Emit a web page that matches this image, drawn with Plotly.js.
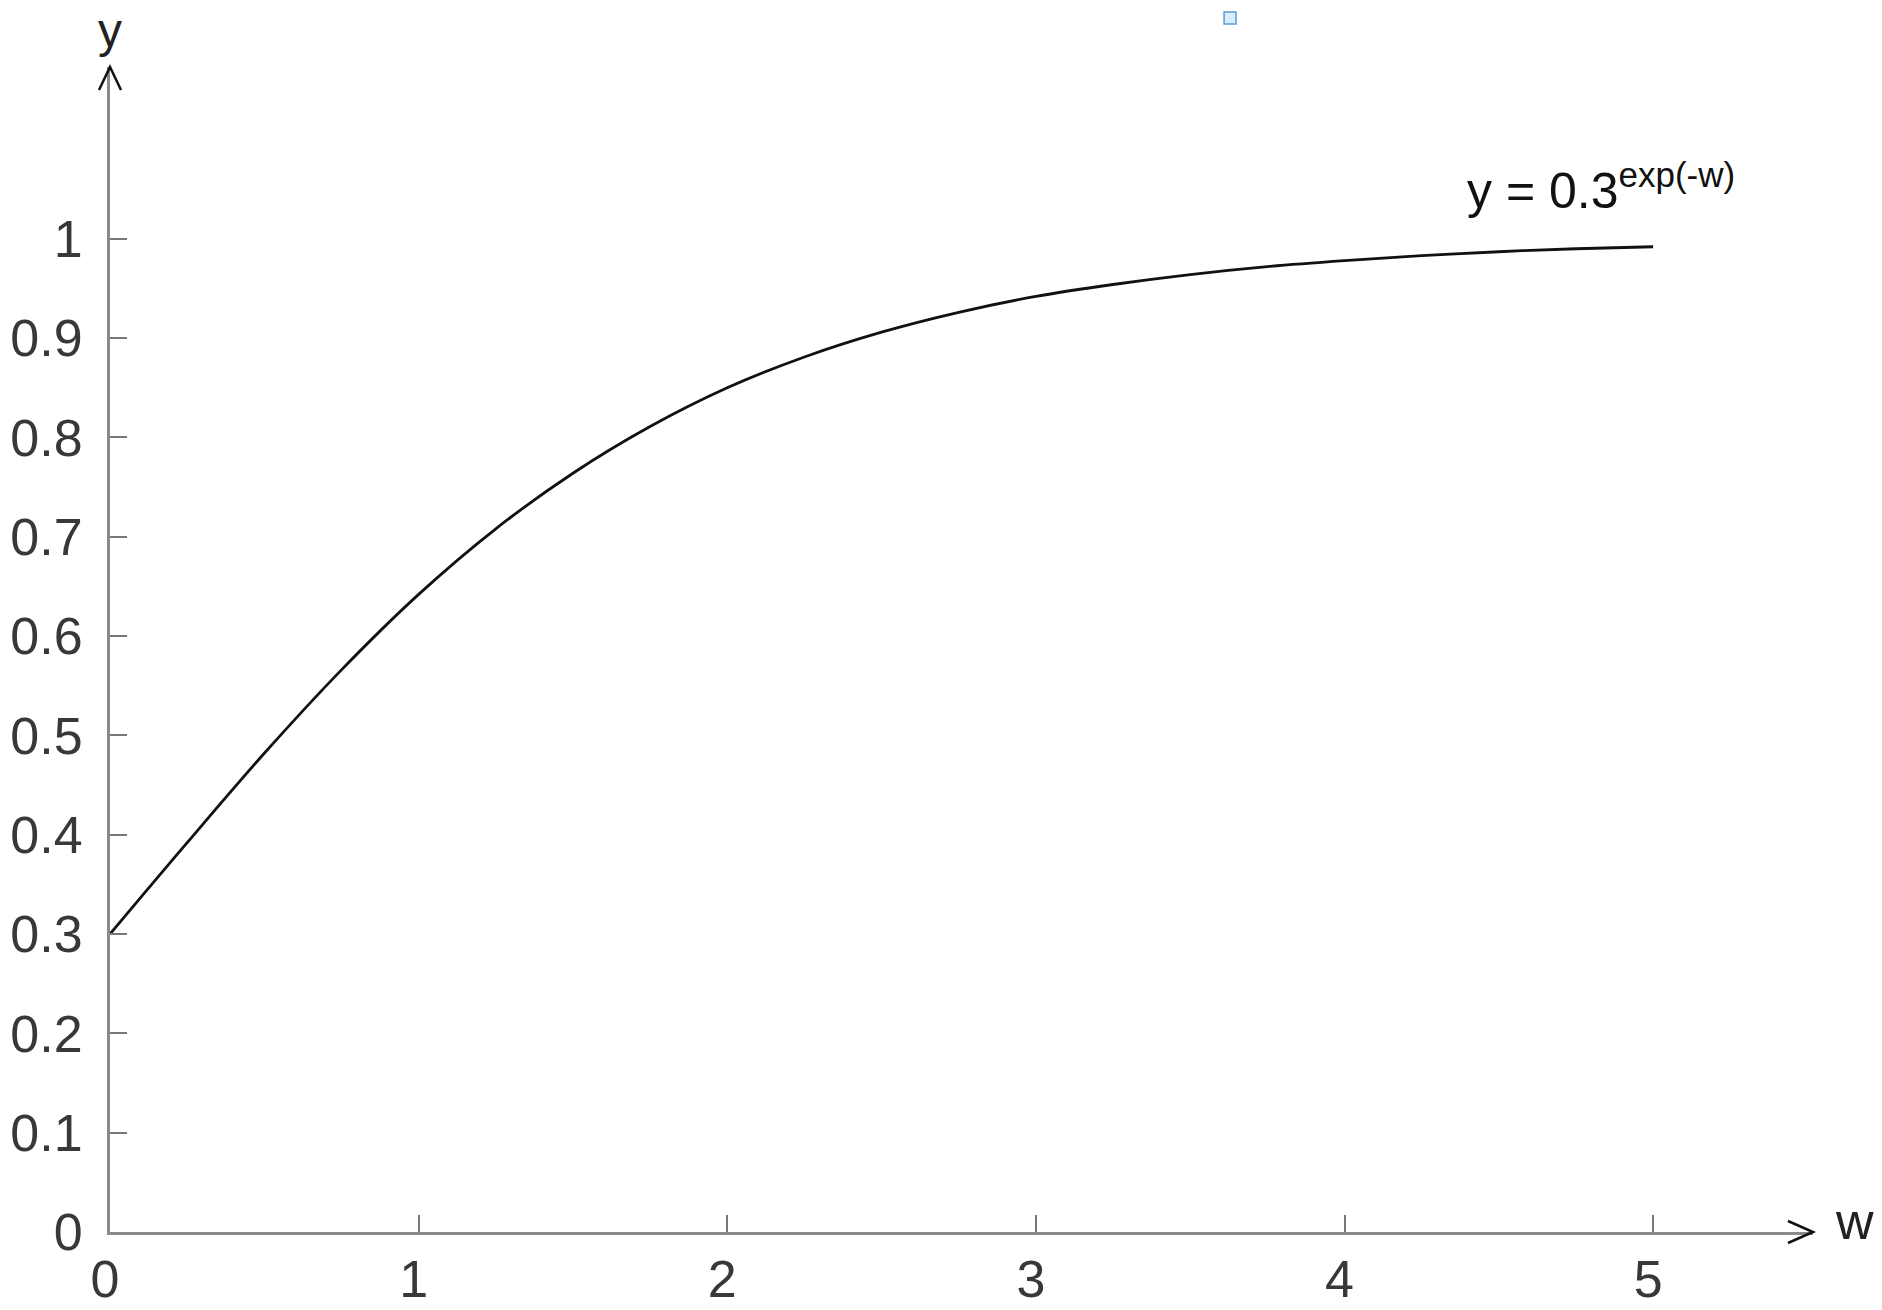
<!DOCTYPE html>
<html>
<head>
<meta charset="utf-8">
<script src="https://cdn.plot.ly/plotly-3.0.1.min.js"></script>
<style>html,body{margin:0;padding:0;background:#fff;}#chart{width:1882px;height:1310px;}</style>
</head>
<body>
<div id="chart"></div>
<script>
// values
const wValues = [0, 0.25, 0.5, 0.75, 1, 1.25, 1.5, 1.75, 2, 2.25, 2.5, 2.75, 3, 3.25, 3.5, 3.75, 4, 4.25, 4.5, 4.75, 5];
const yValues = [0.300, 0.392, 0.482, 0.566, 0.642, 0.708, 0.764, 0.811, 0.850, 0.881, 0.906, 0.926, 0.942, 0.954, 0.964, 0.972, 0.978, 0.983, 0.987, 0.990, 0.992];
const xTickVals = [0, 1, 2, 3, 4, 5];
const xTickText = ["0", "1", "2", "3", "4", "5"];
const yTickVals = [0, 0.1, 0.2, 0.3, 0.4, 0.5, 0.6, 0.7, 0.8, 0.9, 1];
const yTickText = ["0", "0.1", "0.2", "0.3", "0.4", "0.5", "0.6", "0.7", "0.8", "0.9", "1"];
const curveLabel = "y = 0.3<sup>exp(-w)</sup>";

const FONT = "Liberation Sans, Arial, sans-serif";
const tickFont = {family: FONT, size: 52, color: "#383838"};

const data = [{
  x: wValues, y: yValues, type: "scatter", mode: "lines",
  line: {color: "#111", width: 2.8, shape: "spline"},
  hoverinfo: "skip", showlegend: false
}];

const layout = {
  width: 1882, height: 1310,
  margin: {l: 110, r: 69, t: 67, b: 78, pad: 0},
  paper_bgcolor: "#fff", plot_bgcolor: "#fff",
  showlegend: false,
  xaxis: {
    range: [0, 5.518], showgrid: false, zeroline: false,
    showline: true, linecolor: "#8a8a8a", linewidth: 3,
    ticks: "inside", ticklen: 17, tickwidth: 2, tickcolor: "#777",
    tickvals: xTickVals, ticktext: xTickText, tickfont: tickFont,
    ticklabelstandoff: 0, ticklabelshift: -5
  },
  yaxis: {
    range: [0, 1.173], showgrid: false, zeroline: false,
    showline: true, linecolor: "#8a8a8a", linewidth: 3,
    ticks: "inside", ticklen: 17, tickwidth: 2, tickcolor: "#777",
    tickvals: yTickVals, ticktext: yTickText, tickfont: tickFont,
    ticklabelstandoff: 14
  },
  annotations: [
    {text: curveLabel, xref: "x", yref: "y", x: 4.39, y: 1.018, xanchor: "left", yanchor: "bottom",
     showarrow: false, font: {family: FONT, size: 50, color: "#111"}},
    {text: "w", xref: "paper", yref: "paper", x: 1, y: 0, xshift: 20, yshift: 11, xanchor: "left", yanchor: "middle",
     showarrow: false, font: {family: FONT, size: 52, color: "#222"}},
    {text: "y", xref: "paper", yref: "paper", x: 0, y: 1, yshift: 8, xanchor: "center", yanchor: "bottom",
     showarrow: false, font: {family: FONT, size: 48, color: "#222"}}
  ],
  shapes: [
    {type: "path", xref: "paper", yref: "paper", xsizemode: "pixel", ysizemode: "pixel",
     xanchor: 1, yanchor: 0, path: "M-25,11 L0,0 L-25,-11", line: {color: "#111", width: 2.5}},
    {type: "path", xref: "paper", yref: "paper", xsizemode: "pixel", ysizemode: "pixel",
     xanchor: 0, yanchor: 1, path: "M-11,-23 L0,0 L11,-23", line: {color: "#111", width: 2.5}},
    {type: "rect", xref: "paper", yref: "paper", xsizemode: "pixel", ysizemode: "pixel",
     xanchor: 0.6577, yanchor: 1.042, x0: -6, x1: 6, y0: -6, y1: 6,
     fillcolor: "#d8ecfb", line: {color: "#5b9bd5", width: 1.5}}
  ]
};

Plotly.newPlot("chart", data, layout, {staticPlot: true, displayModeBar: false});
</script>
</body>
</html>
